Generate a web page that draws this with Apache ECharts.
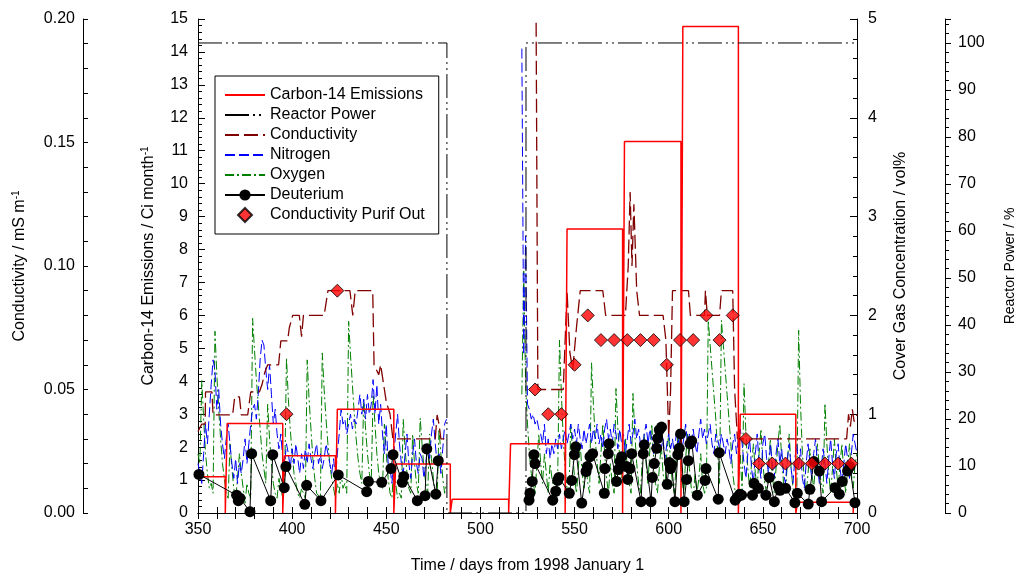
<!DOCTYPE html>
<html>
<head>
<meta charset="utf-8">
<script src="https://cdn.jsdelivr.net/npm/echarts@6/dist/echarts.min.js"></script>
<style>
html, body { margin: 0; padding: 0; background: #fff; }
#chart { width: 1019px; height: 580px; }
</style>
</head>
<body>
<div id="chart"></div>
<script>
// carbon-14 emissions, one block per month (Ci/month)
var c14Start = [350, 365.5, 396, 424, 455, 485, 516, 546, 576.5, 607.5, 638, 668.5];
var c14End   = [364.5, 395, 423, 454, 484, 515, 545, 575.5, 606.5, 637, 667.5, 698];
var c14Value = [1.1, 2.72, 1.74, 3.15, 1.49, 0.42, 2.1, 8.62, 11.28, 14.77, 3.0, 0.33];

// reactor power (%)
var reactorDays  = [350, 482.2, 482.2, 524.2, 524.2, 700];
var reactorPower = [100, 100, 0, 0, 100, 100];

// conductivity (mS/m)
var condDays1 = [350, 352, 353.8, 354, 357.4, 358, 368.4, 369.5, 372, 373, 376.4, 378, 382.6, 384, 385.5, 387, 392.8, 394, 397.6, 398.5, 400.3, 403.8, 405, 406, 417, 418, 419, 430.7, 432.2, 433.5, 442.8, 443.5, 446, 447, 448, 449, 450, 452, 453.5, 476, 477, 478, 479, 482];
var condVals1 = [0.033, 0.036, 0.036, 0.049, 0.049, 0.0397, 0.0397, 0.047, 0.047, 0.0397, 0.0397, 0.049, 0.049, 0.052, 0.057, 0.06, 0.06, 0.0697, 0.0697, 0.075, 0.08, 0.08, 0.0714, 0.08, 0.08, 0.085, 0.09, 0.09, 0.08, 0.09, 0.09, 0.06, 0.056, 0.06, 0.055, 0.05, 0.045, 0.04, 0.03, 0.03, 0.0397, 0.036, 0.03, 0.03];
var condDays2 = [529.2, 530.5, 544, 546, 547.5, 549, 551, 553, 565, 566.5, 577, 578.5, 579.5, 580.5, 581.5, 583, 584.5, 597, 598.5, 600, 601, 602, 610.5, 611.5, 619, 619.5, 620.5, 627, 628, 634, 635, 636.5, 694.5, 695.5, 696.5, 697.5, 698.5, 700];
var condVals2 = [0.26, 0.05, 0.05, 0.09, 0.065, 0.058, 0.075, 0.09, 0.09, 0.08, 0.08, 0.1, 0.13, 0.1, 0.125, 0.09, 0.08, 0.08, 0.07, 0.031, 0.05, 0.09, 0.09, 0.08, 0.08, 0.09, 0.08, 0.08, 0.09, 0.09, 0.05, 0.03, 0.03, 0.04, 0.035, 0.042, 0.037, 0.04];

// cover gas nitrogen (vol%), daily from day 350 and from day 522
var n2Vals1 = [0.5,0.4,0.3,0.6,0.9,0.7,1.0,1.3,1.55,1.45,
  1.05,1.25,0.9,0.7,0.55,0.75,0.9,0.7,0.5,0.35,
  0.55,0.3,0.5,0.4,0.55,0.75,0.5,0.7,0.9,1.05,
  1.1,0.95,1.2,1.55,1.75,1.7,1.45,1.25,1.5,1.2,
  0.9,1.05,0.8,0.65,0.8,0.55,0.5,0.7,0.6,0.45,
  0.65,0.5,0.7,0.55,0.4,0.6,0.45,0.65,0.5,0.7,
  0.55,0.45,0.6,0.7,0.5,0.6,0.45,0.55,0.7,0.6,
  0.5,0.4,0.55,0.35,0.6,0.8,1.05,0.9,0.95,0.8,
  0.9,1.0,0.85,0.95,0.9,1.05,1.2,1.0,1.15,0.95,
  1.2,1.0,1.1,1.35,1.0,1.3,0.9,1.1,0.8,0.6,
  0.9,0.5,0.45,0.3,0.6,0.8,1.0,0.7,0.5,0.4,
  0.6,0.8,0.5,0.35,0.6,0.75,0.5,0.4,0.6,0.55,
  0.35,0.5,0.7,0.55,0.8,0.95,0.7,0.5,0.6,0.4,
  0.65,0.9,0.95];
var n2Vals2 = [4.7,1.6,2.8,1.1,1.05,0.95,1.0,0.9,
  0.95,0.85,0.8,0.7,0.9,0.6,0.75,0.55,0.7,0.6,
  0.75,0.65,0.8,0.65,0.75,0.85,0.7,0.8,0.9,0.75,
  0.85,0.7,0.9,0.75,0.65,0.85,0.7,0.8,0.9,0.7,
  0.85,0.75,0.9,0.7,0.8,0.65,0.85,0.95,0.75,0.85,
  0.7,0.9,0.8,0.65,0.85,0.7,0.8,0.6,0.75,0.9,
  0.7,0.8,0.95,0.75,0.85,0.7,0.6,0.8,0.9,0.7,
  0.85,0.75,0.6,0.8,0.7,0.85,0.65,0.75,0.55,0.7,
  0.8,0.65,0.75,0.6,0.8,0.7,0.85,0.65,0.75,0.9,
  0.7,0.8,0.65,0.85,0.7,0.6,0.8,0.95,0.75,0.85,
  0.7,0.8,0.9,0.7,0.6,0.8,0.75,0.65,0.8,0.7,
  0.6,0.75,0.65,0.5,0.7,0.8,0.6,0.75,0.85,0.7,
  0.5,0.35,0.6,0.75,0.45,0.3,0.6,0.8,0.5,0.35,
  0.7,0.8,0.55,0.4,0.7,0.5,0.35,0.6,0.75,0.5,
  0.65,0.4,0.3,0.55,0.7,0.45,0.3,0.55,0.7,0.45,
  0.65,0.35,0.25,0.5,0.7,0.5,0.35,0.6,0.75,0.5,
  0.3,0.45,0.65,0.5,0.3,0.55,0.75,0.5,0.35,0.6,
  0.7,0.45,0.3,0.5,0.7,0.55,0.35,0.6,0.8,0.7,
  0.6];

// cover gas oxygen (vol%), daily from day 350 and from day 522
var o2Vals1 = [0.6,0.5,1.34,0.95,0.6,0.4,0.25,0.3,0.2,1.84,
  1.4,1.05,0.75,0.5,0.35,0.2,0.15,0.7,0.45,0.25,
  0.12,0.1,0.6,0.4,0.25,0.1,0.3,0.2,0.15,1.97,
  1.65,1.35,1.1,0.85,0.6,0.45,0.3,1.1,0.75,0.5,
  0.3,0.2,0.15,0.35,0.25,0.15,0.3,1.57,1.15,0.85,
  0.6,0.4,0.3,0.2,0.15,0.25,0.2,0.15,1.55,1.15,
  0.85,0.55,0.35,0.2,0.2,0.15,1.62,1.25,0.95,0.7,
  0.5,0.35,0.25,0.15,0.3,0.2,0.4,0.25,0.3,0.2,
  1.94,1.6,1.3,1.0,0.75,0.55,0.4,0.3,1.15,0.85,
  0.6,0.4,0.3,1.2,0.9,0.6,0.4,0.3,0.25,0.9,
  0.6,0.35,0.2,0.15,0.5,0.3,0.15,0.2,0.15,0.95,
  0.65,0.4,0.25,0.2,0.8,0.5,0.3,0.2,0.96,0.7,
  0.45,0.3,0.2,0.8,0.55,0.35,0.2,0.15,0.85,0.6,
  0.35,0.2,0.3];
var o2Vals2 = [1.2,2.45,1.3,0.9,0.6,0.4,0.3,0.2,
  0.5,0.8,0.5,0.3,0.6,0.4,0.2,0.5,0.35,0.25,
  0.2,0.3,1.75,1.2,0.75,0.45,0.25,0.2,0.9,0.6,
  0.35,0.2,0.45,0.7,0.4,0.25,0.5,0.3,0.2,1.52,
  1.1,0.75,0.5,0.3,0.6,0.9,0.6,0.35,0.2,0.5,
  0.3,0.2,1.26,0.85,0.55,0.35,0.5,0.75,0.45,0.3,
  0.2,1.21,0.8,0.5,0.3,0.2,0.55,0.8,0.5,0.3,
  0.65,0.9,0.55,0.3,0.2,0.45,0.7,0.4,0.25,0.6,
  0.8,0.5,0.3,0.2,0.5,0.85,0.6,0.35,0.2,0.55,
  0.8,0.45,0.25,0.15,0.4,0.2,0.35,0.6,0.3,0.2,
  0.25,1.95,1.7,1.45,1.2,0.95,0.6,0.3,1.95,1.7,
  1.45,1.2,0.95,0.7,0.4,0.25,0.15,0.3,0.6,0.2,
  1.31,0.8,0.45,0.25,0.5,0.7,0.4,0.25,0.6,0.85,
  0.5,0.3,0.2,0.5,0.75,0.4,0.2,0.45,0.7,0.9,
  0.55,0.3,0.2,0.5,0.8,0.45,0.25,0.2,0.15,1.85,
  1.1,0.6,0.35,0.2,0.4,0.65,0.4,0.25,0.5,0.7,
  0.45,0.3,0.2,1.11,0.7,0.4,0.2,0.45,0.75,0.45,
  0.25,0.5,0.7,0.4,0.2,0.45,0.7,0.4,0.25,0.5,
  0.6];
var gasStart1 = 350, gasStart2 = 522;

// deuterium (vol%)
var d2Days1 = [350.5, 370.5, 371.4, 372.3, 377.6, 378.5, 388.6, 389.7, 395.8, 396.7, 406.7, 407.7, 415.3, 424.5, 439.6, 440.5, 447.6, 452.5, 453.6, 458.5, 459.3, 466.5, 470.6, 471.5, 476.3, 477.6];
var d2Vals1 = [0.39, 0.18, 0.125, 0.15, 0.013, 0.6, 0.125, 0.59, 0.256, 0.47, 0.088, 0.28, 0.125, 0.385, 0.216, 0.32, 0.31, 0.45, 0.59, 0.31, 0.37, 0.125, 0.175, 0.65, 0.19, 0.53];
var d2Days2 = [525.8, 526.3, 527.5, 528.4, 529, 538.4, 540, 541, 541.7, 547.2, 548.5, 549.9, 550.6, 553.8, 556.1, 556.8, 558.2, 559.6, 565.8, 566.1, 567.9, 568.3, 572.3, 573.2, 574.1, 575, 577.6, 578.3, 579.4, 580.3, 585.3, 586.5, 587, 590.6, 591.3, 592.3, 593.6, 594.1, 595, 596.2, 599.2, 600.3, 601, 601.6, 603.3, 604.8, 605.6, 606.3, 608.2, 609.5, 610.4, 611.3, 612.2, 615.2, 619.3, 619.8, 626.3, 626.8, 635.3, 636.4, 637.8, 638.7, 644.5, 645.3, 647.6, 651.6, 653.4, 656.1, 658.2, 659.1, 662.1, 667, 668.3, 674.1, 675, 677.1, 680, 681.2, 688.3, 690.6, 692.2, 695, 696.2, 698.9];
var d2Vals2 = [0.13, 0.2, 0.32, 0.59, 0.5, 0.13, 0.22, 0.33, 0.36, 0.2, 0.33, 0.59, 0.67, 0.1, 0.42, 0.47, 0.57, 0.6, 0.2, 0.45, 0.6, 0.7, 0.32, 0.44, 0.52, 0.57, 0.47, 0.34, 0.45, 0.6, 0.115, 0.6, 0.69, 0.115, 0.36, 0.5, 0.655, 0.756, 0.84, 0.87, 0.29, 0.51, 0.45, 0.49, 0.115, 0.59, 0.655, 0.8, 0.115, 0.34, 0.53, 0.7, 0.73, 0.18, 0.33, 0.45, 0.14, 0.61, 0.13, 0.16, 0.19, 0.18, 0.18, 0.3, 0.25, 0.18, 0.36, 0.115, 0.27, 0.23, 0.25, 0.104, 0.2, 0.09, 0.24, 0.52, 0.425, 0.115, 0.256, 0.19, 0.32, 0.425, 0.47, 0.104];

// conductivity at purification outlet (mS/m), weekly
var purifDays = [397, 424, 529, 536, 543, 550, 557, 564, 571, 578, 585, 592, 599, 606, 613, 620, 627, 634, 641, 648, 655, 662, 669, 676, 683, 690, 697];
var purifVals = [0.04, 0.09, 0.05, 0.04, 0.04, 0.06, 0.08, 0.07, 0.07, 0.07, 0.07, 0.07, 0.06, 0.07, 0.07, 0.08, 0.07, 0.08, 0.03, 0.02, 0.02, 0.02, 0.02, 0.02, 0.02, 0.02, 0.02];

var FONT = 'Liberation Sans, Arial, sans-serif';
var GAP = [501, '-'];

function pairs(xs, ys) {
  return xs.map(function (x, i) { return [x, ys[i]]; });
}
function daily(start, ys) {
  return ys.map(function (y, i) { return [start + i, y]; });
}
function c14Steps() {
  var pts = [];
  for (var i = 0; i < c14Value.length; i++) {
    if (i > 0) pts.push([c14Start[i], 0]);
    pts.push([c14Start[i], c14Value[i]]);
    pts.push([c14End[i], c14Value[i]]);
    pts.push([c14End[i], 0]);
  }
  return pts;
}

var labelStyle = { color: '#000', fontSize: 16, fontFamily: FONT };
var nameStyle = { color: '#000', fontSize: 16, fontFamily: FONT };
var supName = { rich: {
  a: { fontSize: 16, color: '#000', fontFamily: FONT, lineHeight: 18 },
  s: { fontSize: 10, color: '#000', fontFamily: FONT, lineHeight: 18, verticalAlign: 'top' }
} };
var axLine = { show: true, lineStyle: { color: '#000', width: 1 } };
var noMark = { opacity: 0 };

var chart = echarts.init(document.getElementById('chart'));
chart.setOption({
  animation: false,
  backgroundColor: '#fff',
  textStyle: { fontFamily: FONT },
  grid: { left: 198, top: 19, width: 659, height: 494, outerBoundsMode: 'none', containLabel: false },
  legend: {
    orient: 'vertical', left: 215, top: 76,
    backgroundColor: '#fff', borderColor: '#000', borderWidth: 1,
    padding: [11, 14, 11, 9], itemGap: 4, itemWidth: 40, itemHeight: 14,
    textStyle: { color: '#000', fontSize: 16, fontFamily: FONT },
    data: [
      { name: 'Carbon-14 Emissions', itemStyle: noMark },
      { name: 'Reactor Power', itemStyle: noMark },
      { name: 'Conductivity', itemStyle: noMark },
      { name: 'Nitrogen', itemStyle: noMark },
      { name: 'Oxygen', itemStyle: noMark },
      { name: 'Deuterium' },
      { name: 'Conductivity Purif Out', icon: 'path://M7,0L14,7L7,14L0,7Z' }
    ]
  },
  xAxis: [{
    type: 'value', min: 350, max: 700, interval: 50,
    name: 'Time / days from 1998 January 1', nameLocation: 'middle', nameGap: 45,
    nameTextStyle: nameStyle,
    axisLine: axLine,
    axisTick: { inside: true, length: 6, lineStyle: { color: '#000' } },
    minorTick: { show: true, splitNumber: 5, length: 6, lineStyle: { color: '#000' } },
    axisLabel: Object.assign({ margin: 9 }, labelStyle),
    splitLine: { show: false }
  }, {
    type: 'value', min: 350, max: 700, interval: 50, position: 'top',
    axisLine: axLine,
    axisTick: { inside: true, length: 6, lineStyle: { color: '#000' } },
    minorTick: { show: true, splitNumber: 5, length: 6, lineStyle: { color: '#000' } },
    axisLabel: { show: false },
    splitLine: { show: false }
  }],
  yAxis: [{
    type: 'value', min: 0, max: 15, interval: 1, position: 'left',
    name: '{a|Carbon-14 Emissions / Ci month}{s|-1}', nameLocation: 'middle', nameGap: 40,
    nameTextStyle: supName,
    axisLine: axLine,
    axisTick: { inside: true, length: 7, lineStyle: { color: '#000' } },
    minorTick: { show: true, splitNumber: 5, length: 4, lineStyle: { color: '#000' } },
    axisLabel: Object.assign({ margin: 10 }, labelStyle),
    splitLine: { show: false }
  }, {
    type: 'value', min: 0, max: 0.2, interval: 0.05, position: 'left', offset: 115,
    name: '{a|Conductivity / mS m}{s|-1}', nameLocation: 'middle', nameGap: 54,
    nameTextStyle: supName,
    axisLine: axLine,
    axisTick: { inside: true, length: 5, lineStyle: { color: '#000' } },
    minorTick: { show: true, splitNumber: 5, length: 5, lineStyle: { color: '#000' } },
    axisLabel: Object.assign({ margin: 8, formatter: function (v) { return v.toFixed(2); } }, labelStyle),
    splitLine: { show: false }
  }, {
    type: 'value', min: 0, max: 5, interval: 1, position: 'right',
    name: 'Cover Gas Concentration / vol%', nameLocation: 'middle', nameGap: 36, nameMoveOverlap: false,
    nameTextStyle: nameStyle,
    axisLine: axLine,
    axisTick: { inside: true, length: 7, lineStyle: { color: '#000' } },
    minorTick: { show: true, splitNumber: 5, length: 4, lineStyle: { color: '#000' } },
    axisLabel: Object.assign({ margin: 11 }, labelStyle),
    splitLine: { show: false }
  }, {
    type: 'value', min: 0, max: 105.1, interval: 10, position: 'right', offset: 88,
    name: 'Reactor Power / %', nameLocation: 'middle', nameGap: 58,
    nameTextStyle: { color: '#000', fontSize: 14, fontFamily: FONT },
    axisLine: axLine,
    axisTick: { inside: false, length: 6, lineStyle: { color: '#000' } },
    minorTick: { show: true, splitNumber: 5, length: 4, lineStyle: { color: '#000' } },
    axisLabel: Object.assign({ margin: 13, showMaxLabel: false }, labelStyle),
    splitLine: { show: false }
  }],
  series: [{
    name: 'Oxygen', type: 'line', yAxisIndex: 2, symbol: 'none', z: 2,
    lineStyle: { color: '#008000', width: 1, type: [9, 3, 2, 3] },
    itemStyle: { color: '#008000' },
    data: daily(gasStart1, o2Vals1).concat([GAP], daily(gasStart2, o2Vals2))
  }, {
    name: 'Nitrogen', type: 'line', yAxisIndex: 2, symbol: 'none', z: 2,
    lineStyle: { color: '#0000ff', width: 1, type: [10, 4] },
    itemStyle: { color: '#0000ff' },
    data: daily(gasStart1, n2Vals1).concat([GAP], daily(gasStart2, n2Vals2))
  }, {
    name: 'Conductivity', type: 'line', yAxisIndex: 1, symbol: 'none', z: 3,
    lineStyle: { color: '#800000', width: 1.3, type: [14, 5] },
    itemStyle: { color: '#800000' },
    data: pairs(condDays1, condVals1).concat([GAP], pairs(condDays2, condVals2))
  }, {
    name: 'Carbon-14 Emissions', type: 'line', yAxisIndex: 0, symbol: 'none', z: 3,
    lineStyle: { color: '#ff0000', width: 1.5 },
    itemStyle: { color: '#ff0000' },
    data: c14Steps()
  }, {
    name: 'Reactor Power', type: 'line', yAxisIndex: 3, symbol: 'none', z: 3,
    lineStyle: { color: '#000', width: 1, type: [24, 4, 2, 4, 2, 4] },
    itemStyle: { color: '#000' },
    data: pairs(reactorDays, reactorPower)
  }, {
    name: 'Deuterium', type: 'line', yAxisIndex: 2, symbol: 'circle', symbolSize: 11, z: 4,
    lineStyle: { color: '#000', width: 1 },
    itemStyle: { color: '#000' },
    data: pairs(d2Days1, d2Vals1).concat([GAP], pairs(d2Days2, d2Vals2))
  }, {
    name: 'Conductivity Purif Out', type: 'scatter', yAxisIndex: 1, symbol: 'diamond', symbolSize: 13, z: 5,
    itemStyle: { color: '#ff0000', borderColor: '#000', borderWidth: 1 },
    data: pairs(purifDays, purifVals)
  }]
});
window.addEventListener('resize', function () { chart.resize(); });
</script>
</body>
</html>
